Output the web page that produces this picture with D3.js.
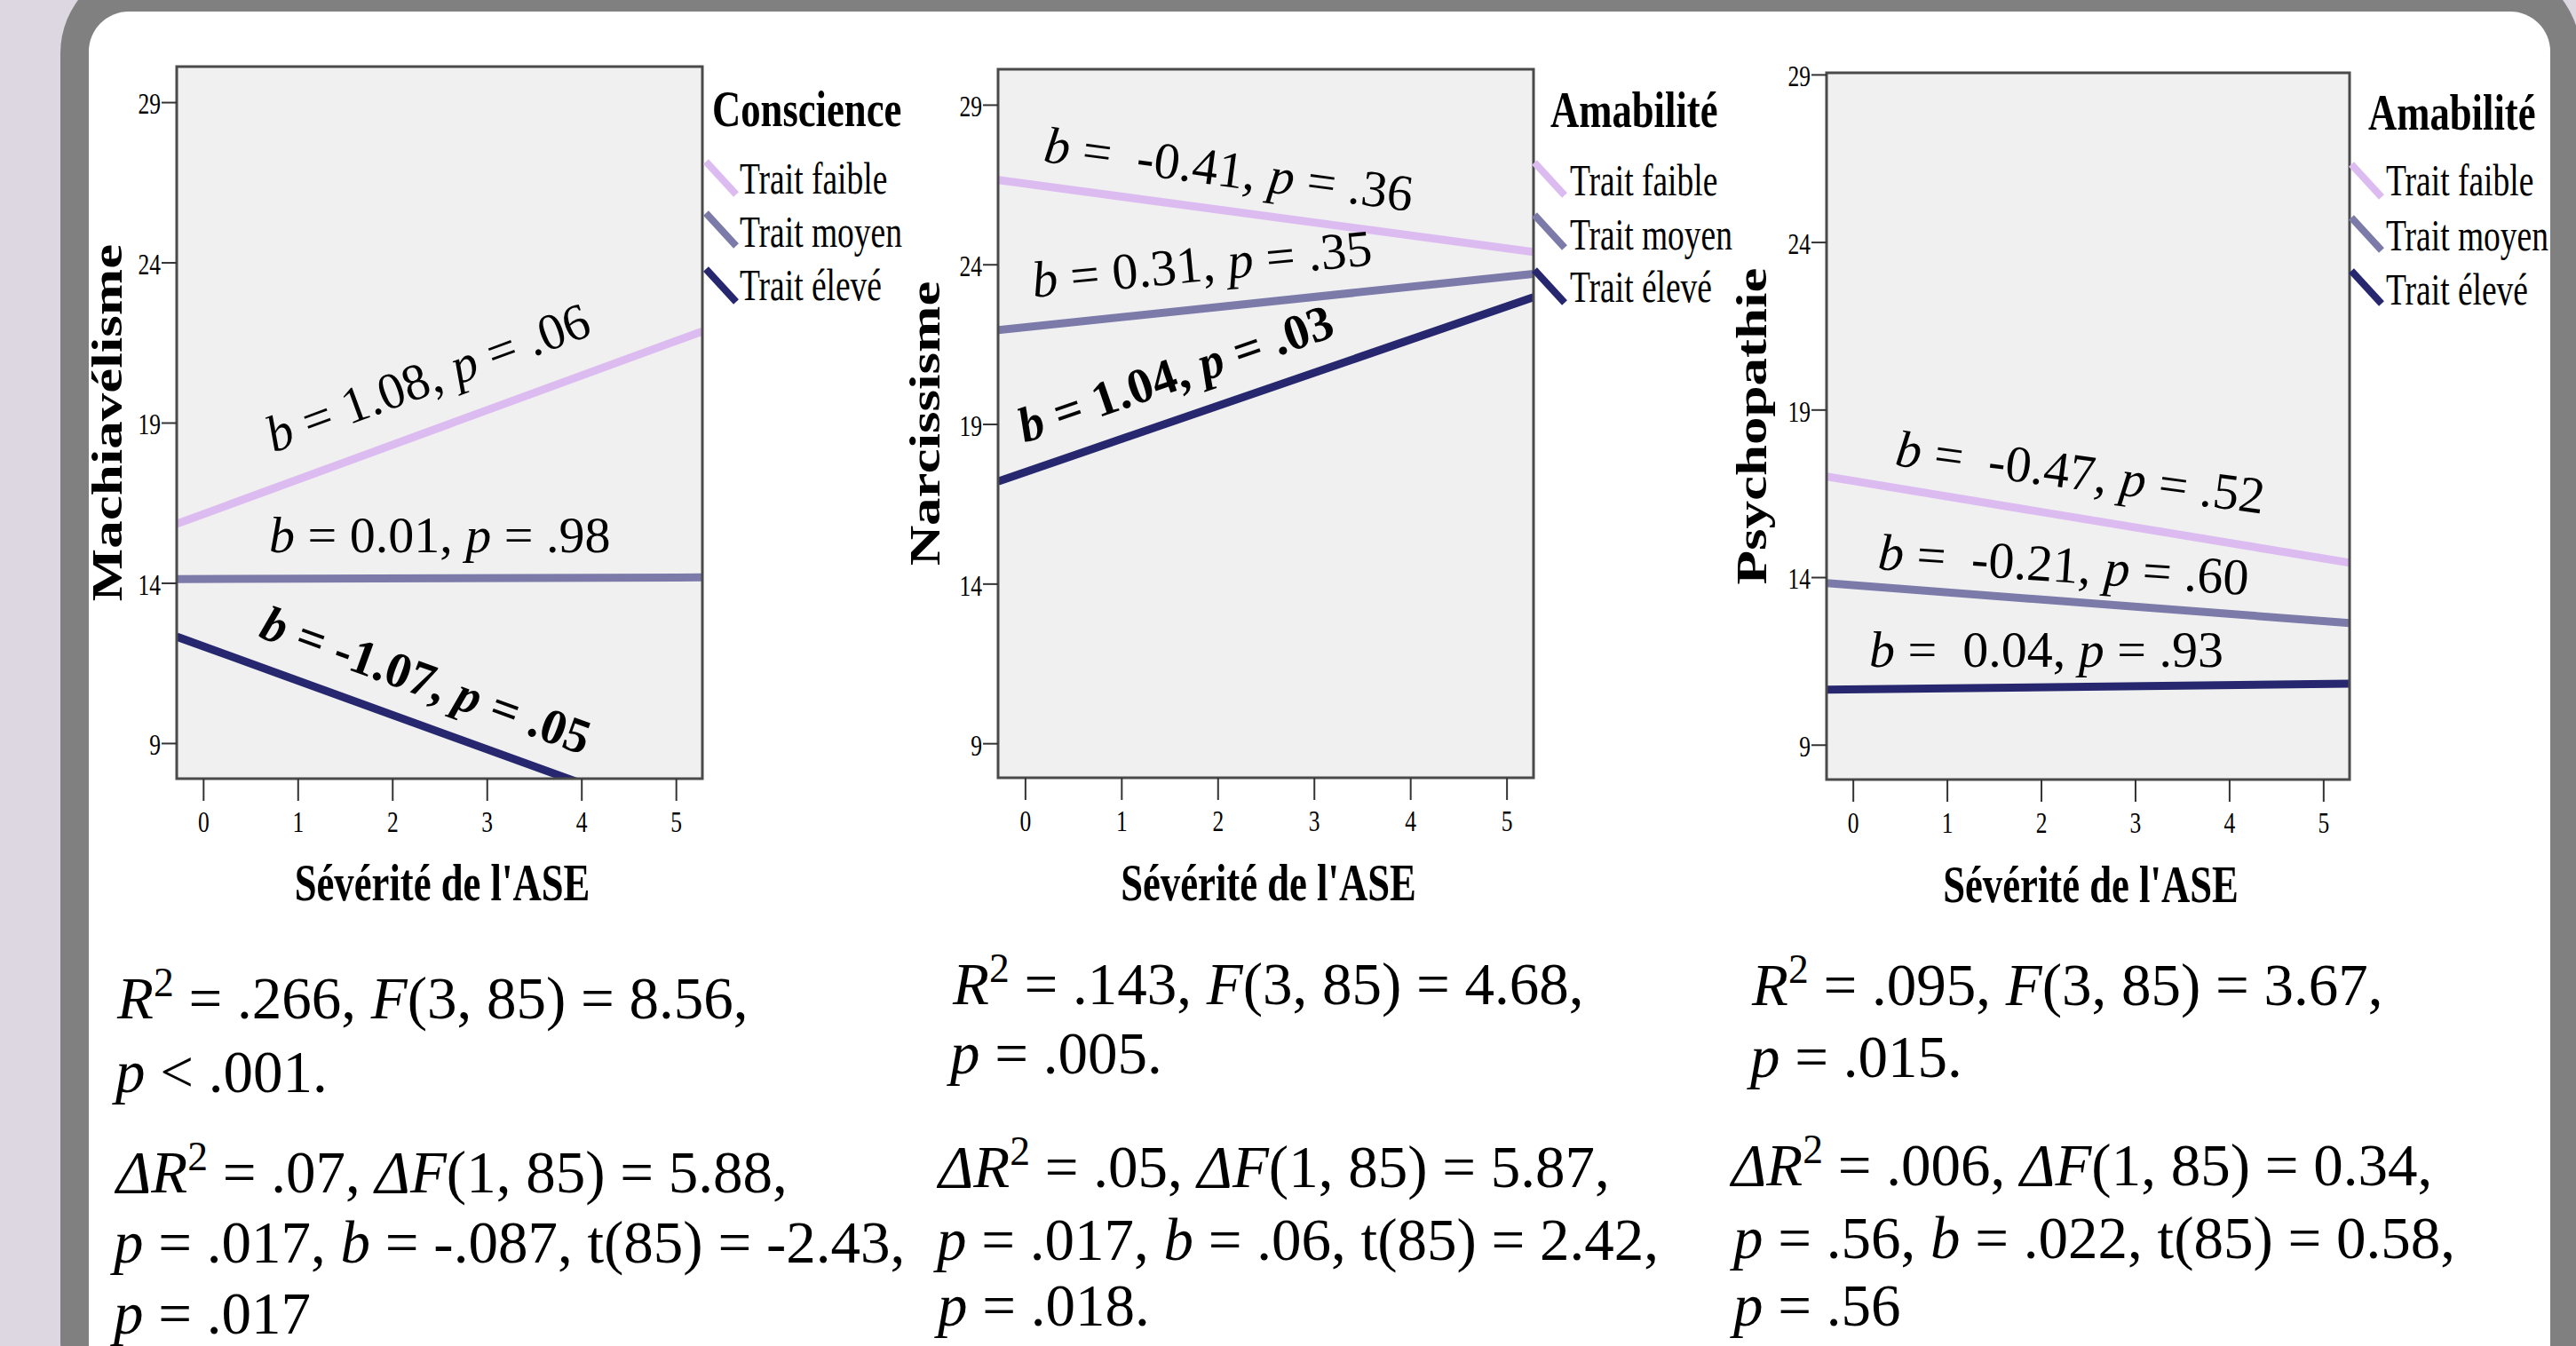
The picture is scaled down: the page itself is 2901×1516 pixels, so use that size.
<!DOCTYPE html>
<html>
<head>
<meta charset="utf-8">
<script src="https://cdn.jsdelivr.net/npm/d3@7"></script>
<style>
body { margin: 0; background: #dcd7e0; }
svg { display: block; }
text { font-family: "Liberation Serif", "Times New Roman", serif; fill: #000; }
</style>
</head>
<body>
<script>
// data
const groups = ['Trait faible', 'Trait moyen', 'Trait élevé'];
const groupColors = ['#dcbcf0', '#7b7aa9', '#27276f'];
const xEdges = [-0.28, 5.28];          // lines run across the whole plot
const xTicks = [0, 1, 2, 3, 4, 5];
const yTicks = [9, 14, 19, 24, 29];

// predicted values at the left and right edge of each plot
const machValues = [[15.84, 21.85], [14.12, 14.17], [12.32, 6.37]];
const narcValues = [[26.64, 24.39], [21.94, 23.70], [17.20, 22.97]];
const psyValues = [[17.00, 14.43], [13.82, 12.63], [10.64, 10.82]];

const yTitles = ['Machiavélisme', 'Narcissisme', 'Psychopathie'];
const legendTitles = ['Conscience', 'Amabilité', 'Amabilité'];
const xTitle = "Sévérité de l'ASE";

const slopeLabels = [
    ['*b* = 1.08, *p* = .06', '*b* = 0.01, *p* = .98', '*b* = -1.07, *p* = .05'],
    ['*b* =  -0.41, *p* = .36', '*b* = 0.31, *p* = .35', '*b* = 1.04, *p* = .03'],
    ['*b* =  -0.47, *p* = .52', '*b* =  -0.21, *p* = .60', '*b* =  0.04, *p* = .93']
];
const slopeBold = [[false, false, true], [false, false, true], [false, false, false]];

const machStats = [
    '*R*^2^ = .266, *F*(3, 85) = 8.56,',
    '*p* < .001.',
    '*ΔR*^2^ = .07, *ΔF*(1, 85) = 5.88,',
    '*p* = .017, *b* = -.087, t(85) = -2.43,',
    '*p* = .017'
];
const narcStats = [
    '*R*^2^ = .143, *F*(3, 85) = 4.68,',
    '*p* = .005.',
    '*ΔR*^2^ = .05, *ΔF*(1, 85) = 5.87,',
    '*p* = .017, *b* = .06, t(85) = 2.42,',
    '*p* = .018.'
];
const psyStats = [
    '*R*^2^ = .095, *F*(3, 85) = 3.67,',
    '*p* = .015.',
    '*ΔR*^2^ = .006, *ΔF*(1, 85) = 0.34,',
    '*p* = .56, *b* = .022, t(85) = 0.58,',
    '*p* = .56'
];

// layout
const W = 2901, H = 1516;
const condensed = 0.75;

const panels = [
    {
        box: { left: 199, right: 791, top: 75, bottom: 877 }, yDomain: [7.89, 30.11],
        values: machValues, yTitleX: 137, xTitleY: 1014,
        labels: [[308, 510, -20.3], [303, 622, 0], [290, 717, 20]],
        legend: { tx: 802, ty: 142, symX: 795, symY: [182, 240, 303], textX: 833, textY: [218, 278, 338] },
        stats: machStats, statsX: [132, 130, 131, 128, 128], statsY: [1147, 1230, 1343, 1422, 1502]
    },
    {
        box: { left: 1124, right: 1727, top: 78, bottom: 876 }, yDomain: [7.92, 30.11],
        values: narcValues, yTitleX: 1058, xTitleY: 1014,
        labels: [[1174, 182, 7.7], [1164, 335, -5.5], [1154, 499, -19]],
        legend: { tx: 1746, ty: 143, symX: 1728, symY: [183, 242, 304], textX: 1768, textY: [220, 281, 340] },
        stats: narcStats, statsX: [1073, 1070, 1057, 1055, 1056], statsY: [1131, 1209, 1337, 1419, 1493]
    },
    {
        box: { left: 2057, right: 2646, top: 82, bottom: 878 }, yDomain: [7.96, 29.05],
        values: psyValues, yTitleX: 1989, xTitleY: 1016,
        labels: [[2133, 524, 7.5], [2114, 641, 4], [2105, 751, 0]],
        legend: { tx: 2667, ty: 146, symX: 2648, symY: [185, 245, 305], textX: 2687, textY: [220, 282, 343] },
        stats: psyStats, statsX: [1973, 1971, 1950, 1952, 1952], statsY: [1132, 1213, 1335, 1417, 1493]
    }
];

const svg = d3.select('body').append('svg')
    .attr('width', W)
    .attr('height', H);

// slide frame
svg.append('rect').attr('width', W).attr('height', H).attr('fill', '#dcd7e0');
svg.append('rect').attr('x', 68).attr('y', -40).attr('width', 2838).attr('height', 1650)
    .attr('rx', 100).attr('fill', '#808080');
svg.append('rect').attr('x', 100).attr('y', 13).attr('width', 2772).attr('height', 1600)
    .attr('rx', 45).attr('fill', '#ffffff');

// text with *italic* and ^superscript^ parts
function richText(sel, str, size) {
    const parts = str.split(/(\*[^*]+\*|\^[^^]+\^)/).filter(s => s.length);
    let back = 0;
    parts.forEach(p => {
        const t = sel.append('tspan');
        if (p[0] === '^') {
            t.text(p.slice(1, -1)).attr('font-size', size * 0.68).attr('dy', -size * 0.38);
            back = size * 0.38;
            return;
        }
        if (p[0] === '*') t.text(p.slice(1, -1)).attr('font-style', 'italic');
        else t.text(p);
        if (back) { t.attr('dy', back); back = 0; }
    });
}

panels.forEach((pn, i) => {
    const b = pn.box;
    const x = d3.scaleLinear().domain(xEdges).range([b.left, b.right]);
    const y = d3.scaleLinear().domain(pn.yDomain).range([b.bottom, b.top]);

    svg.append('rect')
        .attr('x', b.left).attr('y', b.top)
        .attr('width', b.right - b.left).attr('height', b.bottom - b.top)
        .attr('fill', '#f0f0f0');

    svg.append('clipPath').attr('id', 'clip' + i)
        .append('rect')
        .attr('x', b.left).attr('y', b.top)
        .attr('width', b.right - b.left).attr('height', b.bottom - b.top);

    const line = d3.line()
        .x((d, k) => x(xEdges[k]))
        .y(d => y(d));

    svg.append('g').attr('clip-path', `url(#clip${i})`)
        .selectAll('path')
        .data(pn.values)
        .enter()
        .append('path')
        .attr('d', d => line(d))
        .attr('fill', 'none')
        .attr('stroke', (d, k) => groupColors[k])
        .attr('stroke-width', 9);

    svg.append('rect')
        .attr('x', b.left).attr('y', b.top)
        .attr('width', b.right - b.left).attr('height', b.bottom - b.top)
        .attr('fill', 'none')
        .attr('stroke', '#4a4a4a')
        .attr('stroke-width', 3);

    // axes
    const yAxis = svg.append('g')
        .attr('transform', `translate(${b.left},0)`)
        .call(d3.axisLeft(y).tickValues(yTicks).tickSize(17).tickFormat(d3.format('d')));
    yAxis.select('.domain').remove();
    yAxis.selectAll('line').attr('stroke', '#333').attr('stroke-width', 2);
    yAxis.selectAll('text')
        .attr('font-family', '"Liberation Serif", serif')
        .attr('font-size', 34)
        .attr('fill', '#000')
        .attr('x', -18 / condensed)
        .attr('dy', '0.38em')
        .attr('transform', `scale(${condensed},1)`);

    const xAxis = svg.append('g')
        .attr('transform', `translate(0,${b.bottom})`)
        .call(d3.axisBottom(x).tickValues(xTicks).tickSize(25).tickFormat(d3.format('d')));
    xAxis.select('.domain').remove();
    xAxis.selectAll('line').attr('stroke', '#333').attr('stroke-width', 2);
    xAxis.selectAll('text')
        .attr('font-family', '"Liberation Serif", serif')
        .attr('font-size', 34)
        .attr('fill', '#000')
        .attr('y', 36)
        .attr('dy', '0.71em')
        .attr('transform', `scale(${condensed},1)`);

    svg.append('text')
        .attr('transform', `translate(${(b.left + b.right) / 2 + 3},${pn.xTitleY}) scale(0.745,1)`)
        .attr('text-anchor', 'middle')
        .attr('font-weight', 'bold')
        .attr('font-size', 60)
        .text(xTitle);

    svg.append('text')
        .attr('transform', `translate(${pn.yTitleX},${(b.top + b.bottom) / 2}) scale(0.77,1) rotate(-90)`)
        .attr('text-anchor', 'middle')
        .attr('font-weight', 'bold')
        .attr('font-size', 63)
        .text(yTitles[i]);

    // slope labels
    pn.labels.forEach((pos, k) => {
        const bold = slopeBold[i][k];
        const size = bold ? 56 : 58;
        const t = svg.append('text')
            .attr('transform', `translate(${pos[0]},${pos[1]}) rotate(${pos[2]})`)
            .attr('font-size', size)
            .attr('font-weight', bold ? 'bold' : 'normal')
            .attr('xml:space', 'preserve')
            .style('white-space', 'pre');
        richText(t, slopeLabels[i][k], size);
    });

    // legend
    const lg = pn.legend;
    svg.append('text')
        .attr('transform', `translate(${lg.tx},${lg.ty}) scale(0.77,1)`)
        .attr('font-weight', 'bold')
        .attr('font-size', 58)
        .text(legendTitles[i]);

    groups.forEach((g, k) => {
        svg.append('line')
            .attr('x1', lg.symX).attr('y1', lg.symY[k])
            .attr('x2', lg.symX + 34).attr('y2', lg.symY[k] + 37)
            .attr('stroke', groupColors[k])
            .attr('stroke-width', 8);
        svg.append('text')
            .attr('transform', `translate(${lg.textX},${lg.textY[k]}) scale(${condensed},1)`)
            .attr('font-size', 50)
            .text(g);
    });

    // model statistics under each plot
    pn.stats.forEach((s, k) => {
        const t = svg.append('text')
            .attr('x', pn.statsX[k])
            .attr('y', pn.statsY[k])
            .attr('font-size', 67);
        richText(t, s, 67);
    });
});
</script>
</body>
</html>
